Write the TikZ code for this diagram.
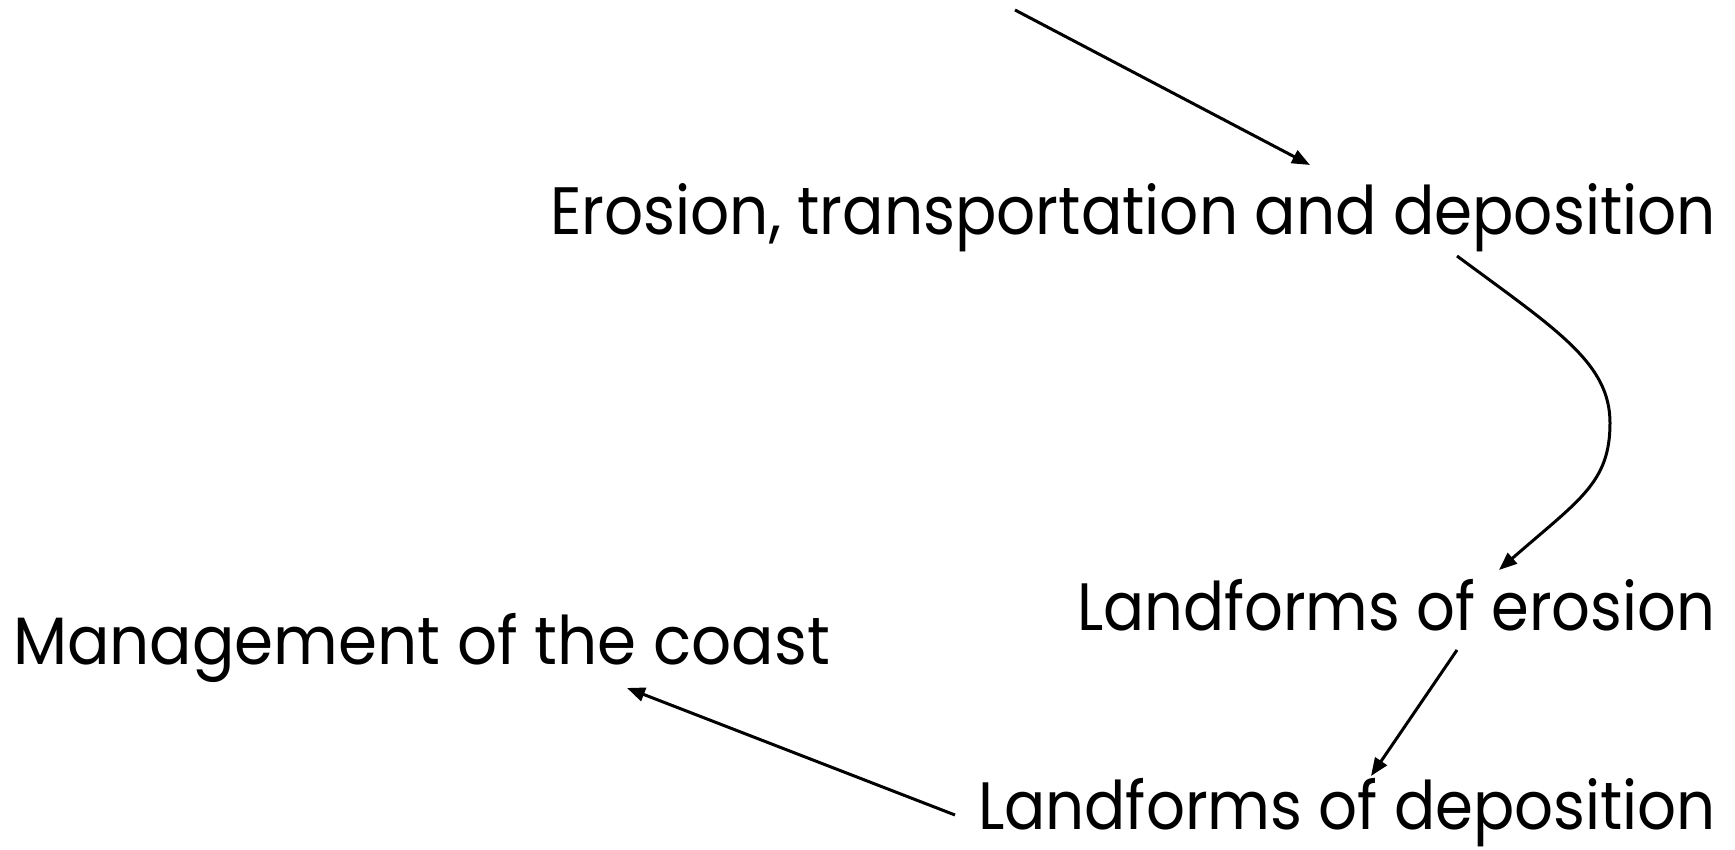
\documentclass[tikz,border=0pt]{standalone}
\usepackage{fontspec}
\setmainfont{Poppins}
\usepackage{graphicx}
\usetikzlibrary{arrows.meta}
\begin{document}
\begin{tikzpicture}[x=1pt,y=1pt,
  caption/.style={inner sep=0pt, outer sep=0pt, anchor=base west,
    font=\fontsize{67}{74}\selectfont},
  link/.style={line width=3pt, -{Triangle[length=18pt,width=14pt]}}]
\useasboundingbox (0,0) rectangle (1735,849);
% the four stages of the coastal topic
\node[caption] (ero) at (550,614) {\resizebox{1166pt}{\height}{Erosion, transportation and deposition}};
\node[caption] (lfe) at (1077,218) {\resizebox{638pt}{\height}{Landforms of erosion}};
\node[caption] (man) at (13,184) {\resizebox{817pt}{\height}{Management of the coast}};
\node[caption] (lfd) at (978,20) {\resizebox{738pt}{\height}{Landforms of deposition}};
% incoming arrow from above the page
\coordinate (src) at (1015,839);
\draw[link] (src) -- ([shift={(760,70)}]ero.base west);
% curved link down the right side, turning at its rightmost point
\coordinate (bend) at (1610,426);
\draw[link] ([shift={(907,-21)}]ero.base west)
  .. controls (1557,519) and (1610,486) .. (bend)
  .. controls (1610,366) and (1579,349) .. ([shift={(422,61)}]lfe.base west);
\draw[link] ([shift={(380,-19)}]lfe.base west) -- ([shift={(393,53)}]lfd.base west);
\draw[link] ([shift={(-23,14)}]lfd.base west) -- ([shift={(614,-23)}]man.base west);
\end{tikzpicture}
\end{document}
